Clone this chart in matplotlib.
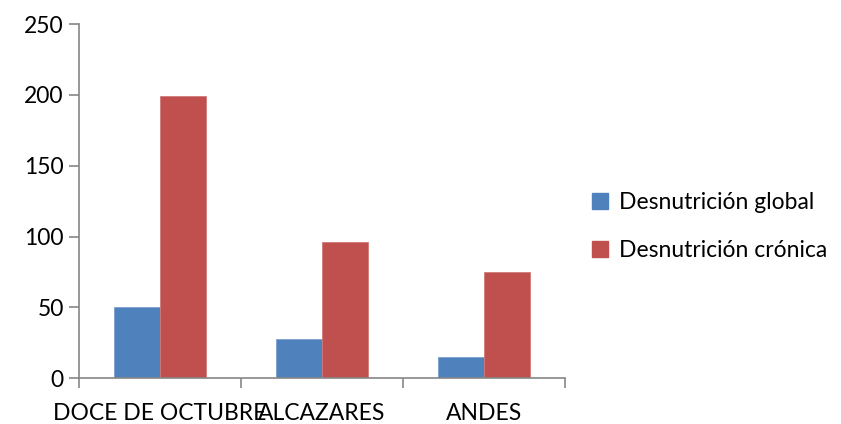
import numpy as np
import matplotlib
matplotlib.use('Agg')
import matplotlib.pyplot as plt
from matplotlib.patches import Patch

plt.rcParams['font.family'] = ['Lato', 'DejaVu Sans']

# barrios y casos de desnutricion
barrios = ['DOCE DE OCTUBRE', 'ALCAZARES', 'ANDES']
global_vals = [50, 28, 15]
cronica_vals = [199, 96, 75]
series = ['Desnutrición global', 'Desnutrición crónica']

azul = '#4F81BD'
rojo = '#C0504D'
gris = '#868686'

fig = plt.figure(figsize=(8.41, 4.24), dpi=100)
ax = fig.add_axes([0.094, 0.108, 0.578, 0.835])

x = np.arange(len(barrios))
w = 0.285
ax.bar(x - w/2, global_vals, w, color=azul, edgecolor='#7a9fcf', linewidth=0.6)
ax.bar(x + w/2, cronica_vals, w, color=rojo, edgecolor='#d07a78', linewidth=0.6)

ax.set_xlim(-0.5, len(barrios) - 0.5)
ax.set_ylim(0, 250)
ax.set_yticks(np.arange(0, 251, 50))
ax.set_xticks(x)
ax.set_xticklabels(barrios)
ax.set_xticks(np.arange(-0.5, len(barrios), 1), minor=True)

for s in ['top', 'right']:
    ax.spines[s].set_visible(False)
for s in ['left', 'bottom']:
    ax.spines[s].set_color(gris)
    ax.spines[s].set_linewidth(1.2)

ax.tick_params(axis='y', colors=gris, labelcolor='black', labelsize=16.5, length=7, width=1.2, pad=4)
ax.tick_params(axis='x', which='major', length=0, labelsize=16.5, labelcolor='black', pad=18)
ax.tick_params(axis='x', which='minor', length=7, width=1.2, colors=gris)

handles = [Patch(color=azul), Patch(color=rojo)]
fig.legend(handles, series, loc='center left', bbox_to_anchor=(0.69, 0.466),
           frameon=False, fontsize=16.5, handlelength=0.7, handleheight=0.7,
           handletextpad=0.5, labelspacing=1.15, borderpad=0)

fig.savefig('out.png', dpi=100)
